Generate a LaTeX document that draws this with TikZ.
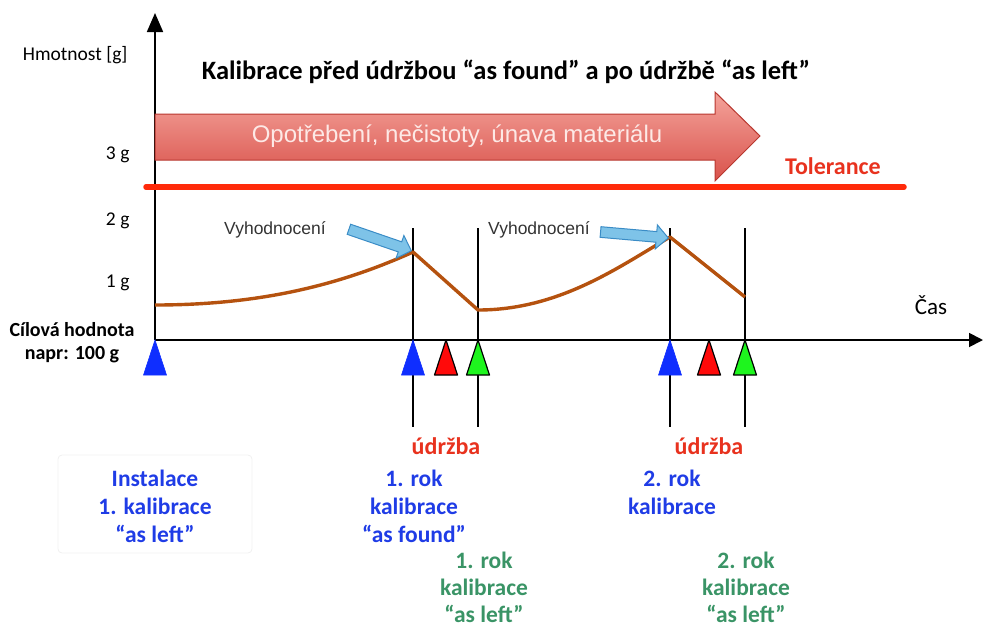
\documentclass[tikz,border=0pt]{standalone}
\usepackage{fontspec}
\setmainfont{Carlito}
\newfontfamily\helv{Liberation Sans}
\usetikzlibrary{shapes.arrows,arrows.meta}

\definecolor{wearTop}{HTML}{F4A39B}
\definecolor{wearBot}{HTML}{D9524B}
\definecolor{wearEdge}{HTML}{B8372F}
\definecolor{wearText}{HTML}{FDE9E6}
\definecolor{tolRed}{HTML}{FF2A0A}
\definecolor{labRed}{HTML}{E8321E}
\definecolor{drift}{HTML}{B5520F}
\definecolor{calBlue}{HTML}{1F3CE6}
\definecolor{calGreen}{HTML}{3A9466}
\definecolor{mkBlue}{HTML}{0F2EFF}
\definecolor{mkRed}{HTML}{FF0A0A}
\definecolor{mkGreen}{HTML}{1EF51E}
\definecolor{callFill}{HTML}{7EC3E8}
\definecolor{callEdge}{HTML}{3A8CC6}

\tikzset{
  axisline/.style={line width=1.8pt},
  eventline/.style={line width=1.3pt},
  driftline/.style={draw=drift, line width=3.4pt, line join=round},
  caltext/.style={font=\fontsize{23.5}{28}\selectfont\bfseries, align=center, inner sep=0pt},
  lefttext/.style={caltext, font=\fontsize{23.5}{27}\selectfont\bfseries, text=calGreen},
  ticktext/.style={font=\fontsize{19.5}{22}\selectfont, anchor=east},
  redlabel/.style={font=\fontsize{24}{26}\selectfont\bfseries, text=labRed},
  evaltext/.style={font=\helv\fontsize{17.5}{20}\selectfont, text=black!80},
  callout/.style={single arrow, draw=callEdge, fill=callFill, line width=1pt,
    minimum width=24pt, single arrow head extend=5pt,
    single arrow head indent=0pt, inner sep=3.5pt, anchor=tip},
  mkbluestyle/.style={fill=mkBlue, draw=mkBlue, line width=0.6pt},
  mkredstyle/.style={fill=mkRed, draw=black, line width=1.2pt, line join=round},
  mkgreenstyle/.style={fill=mkGreen, draw=black, line width=1.2pt, line join=round},
}

\begin{document}
\begin{tikzpicture}[x=1pt,y=-1pt]
\useasboundingbox (0,0) rectangle (983,630);

% axes
\coordinate (O) at (155,340);
\coordinate (ytop) at (155,13);
\coordinate (xend) at (983,340);
\draw[axisline, -{Triangle[length=19pt,width=16pt]}] (O) -- (ytop);
\draw[axisline, -{Triangle[length=14pt,width=14pt]}] (O) -- (xend);

\node[ticktext] (ylab) at (131,55) {Hmotnost [g]};
\node[ticktext] (t3) at (133,155) {3 g};
\node[ticktext] (t2) at (133,221) {2 g};
\node[ticktext] (t1) at (133,283) {1 g};
\node[font=\fontsize{20}{23}\selectfont\bfseries, align=center] (target) at (72,343) {Cílová hodnota\\napr: 100 g};
\node[font=\fontsize{23}{26}\selectfont] (cas) at (931,305) {Čas};

% title
\node[font=\fontsize{26.5}{30}\selectfont\bfseries] (title) at (506,72)
  {Kalibrace před údržbou “as found” a po údržbě “as left”};

% wear arrow
\path[top color=wearTop, bottom color=wearBot, draw=wearEdge, line width=1pt, line join=miter]
  (155,114) -- (715,114) -- (715,92) -- (760,136) -- (715,181) -- (715,160) -- (155,160) -- cycle;
\node[font=\helv\fontsize{24}{28}\selectfont, text=wearText] (wear) at (457,136)
  {Opotřebení, nečistoty, únava materiálu};

% tolerance
\coordinate (tolA) at (146,187);
\coordinate (tolB) at (904,187);
\draw[tolRed, line width=5.5pt, line cap=round] (tolA) -- (tolB);
\node[redlabel] (tol) at (833,166) {Tolerance};

% event lines
\foreach \n/\x in {e1/413, e2/478, e3/670, e4/745}{
  \coordinate (\n top) at (\x,228);
  \coordinate (\n bot) at (\x,427);
  \draw[eventline] (\n top) -- (\n bot);
}

% drift of the weighing result
\coordinate (d0) at (155,305);
\coordinate (d1) at (413,252);
\coordinate (d2) at (478,310);
\coordinate (d3) at (670,237);
\coordinate (d4) at (745,297);
\draw[driftline] (d0) .. controls (260,305) and (340,285) .. (d1) -- (d2)
  .. controls (560,310) and (620,266) .. (d3) -- (d4);

% evaluation callouts
\node[evaltext] (ev1) at (275,230) {Vyhodnocení};
\node[evaltext] (ev2) at (539,230) {Vyhodnocení};
\node[callout, minimum height=66pt, rotate=-19] (c1) at (412,251) {};
\node[callout, minimum height=68pt, rotate=-5] (c2) at (669,238) {};

% markers below the time axis
\foreach \x/\s in {155/mkbluestyle, 413/mkbluestyle, 670/mkbluestyle,
                   446/mkredstyle, 709/mkredstyle, 478/mkgreenstyle, 745/mkgreenstyle}{
  \path[\s] (\x,340) -- (\x+11.5,375) -- (\x-11.5,375) -- cycle;
}

% maintenance labels
\node[redlabel] (m1) at (446,446) {údržba};
\node[redlabel] (m2) at (709,446) {údržba};

% calibration labels
\draw[black!6, line width=0.8pt, rounded corners=4pt] (58,455) rectangle (252,553);
\node[caltext, text=calBlue] (inst) at (155,506) {Instalace\\1. kalibrace\\“as left”};
\node[caltext, text=calBlue] (y1f) at (414,506) {1. rok\\kalibrace\\“as found”};
\node[lefttext] (y1l) at (484,587) {1. rok\\kalibrace\\“as left”};
\node[caltext, text=calBlue] (y2f) at (672,492) {2. rok\\kalibrace};
\node[lefttext] (y2l) at (746,587) {2. rok\\kalibrace\\“as left”};
\end{tikzpicture}
\end{document}
